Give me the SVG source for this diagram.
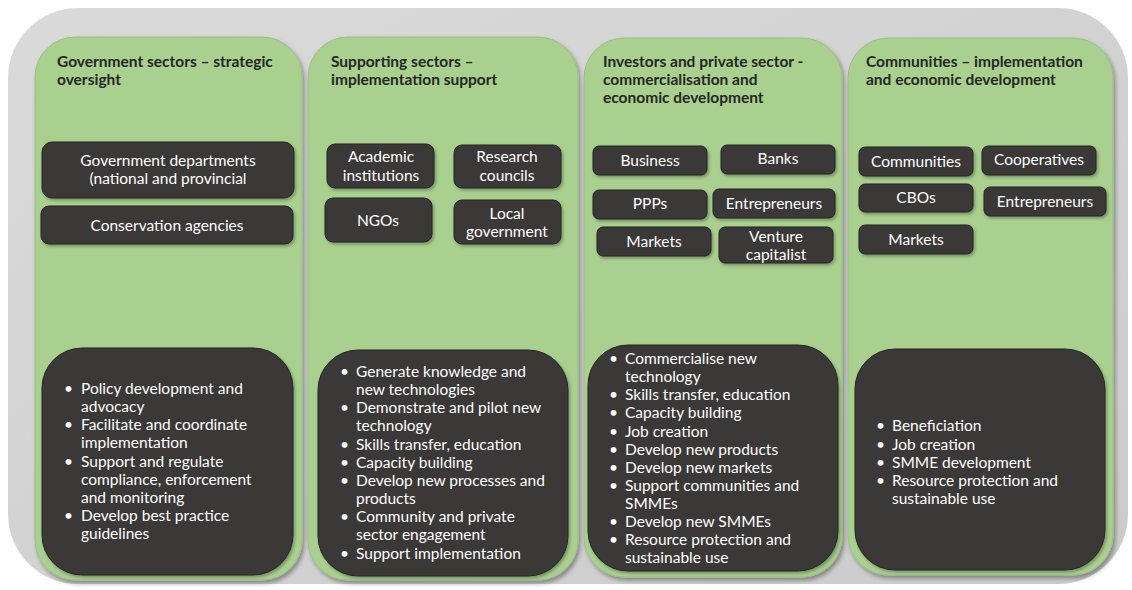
<svg xmlns="http://www.w3.org/2000/svg" width="1132" height="590" viewBox="0 0 1132 590">
  <defs>
    <linearGradient id="bgGrad" x1="0" y1="0" x2="1" y2="1">
      <stop offset="0" stop-color="#dadada"/>
      <stop offset="1" stop-color="#cbcbcb"/>
    </linearGradient>
    <filter id="shadow" x="-10%" y="-10%" width="125%" height="125%">
      <feDropShadow dx="2" dy="3" stdDeviation="2" flood-color="#000" flood-opacity="0.35"/>
    </filter>
    <filter id="shadowSoft" x="-10%" y="-10%" width="125%" height="125%">
      <feDropShadow dx="1.5" dy="2" stdDeviation="1.5" flood-color="#000" flood-opacity="0.3"/>
    </filter>
  </defs>
  <style>
    .col { fill: #a9d08e; stroke: #9cbf84; stroke-width: 1; }
    .box { fill: #3a3838; stroke: #262626; stroke-width: 1; }
    .head { font-family: "Lato", "Open Sans", sans-serif; font-weight: bold; font-size: 15.5px; fill: #262626; }
    .lbl { font-family: "Lato", "Open Sans", sans-serif; font-size: 15.5px; fill: #ffffff; text-anchor: middle; }
    .li { font-family: "Lato", "Open Sans", sans-serif; font-size: 15.5px; fill: #ffffff; }
  </style>

  <!-- background panel -->
  <rect x="8" y="8" width="1120" height="576" rx="70" ry="70" fill="url(#bgGrad)"/>

  <!-- Column 1: government -->
  <g id="col-government">
    <rect class="col" x="35" y="37" width="267" height="543" rx="40" filter="url(#shadow)"/>
    <text class="head" x="57" y="67">Government sectors – strategic</text>
    <text class="head" x="57" y="85">oversight</text>
  </g>
  <g id="gov-departments">
    <rect class="box" x="42" y="142" width="252" height="56" rx="10" filter="url(#shadowSoft)"/>
    <text class="lbl" x="168" y="166">Government departments</text>
    <text class="lbl" x="168" y="184">(national and provincial</text>
  </g>
  <g id="conservation-agencies">
    <rect class="box" x="41" y="206" width="252" height="38" rx="8" filter="url(#shadowSoft)"/>
    <text class="lbl" x="167" y="231">Conservation agencies</text>
  </g>
  <g id="gov-roles">
    <rect class="box" x="42" y="348" width="251" height="227" rx="40" filter="url(#shadowSoft)"/>
    <g class="li">
      <text x="64" y="394">•</text><text x="81" y="394">Policy development and</text>
      <text x="81" y="412">advocacy</text>
      <text x="64" y="430">•</text><text x="81" y="430">Facilitate and coordinate</text>
      <text x="81" y="448">implementation</text>
      <text x="64" y="467">•</text><text x="81" y="467">Support and regulate</text>
      <text x="81" y="485">compliance, enforcement</text>
      <text x="81" y="503">and monitoring</text>
      <text x="64" y="521">•</text><text x="81" y="521">Develop best practice</text>
      <text x="81" y="539">guidelines</text>
    </g>
  </g>

  <!-- Column 2: supporting sectors -->
  <g id="col-supporting">
    <rect class="col" x="308" y="37" width="270" height="543" rx="40" filter="url(#shadow)"/>
    <text class="head" x="331" y="67">Supporting sectors –</text>
    <text class="head" x="331" y="85">implementation support</text>
  </g>
  <g id="academic-institutions">
    <rect class="box" x="327" y="144" width="107" height="44" rx="8" filter="url(#shadowSoft)"/>
    <text class="lbl" x="381" y="162">Academic</text>
    <text class="lbl" x="381" y="181">institutions</text>
  </g>
  <g id="research-councils">
    <rect class="box" x="454" y="145" width="107" height="43" rx="8" filter="url(#shadowSoft)"/>
    <text class="lbl" x="507" y="162">Research</text>
    <text class="lbl" x="507" y="181">councils</text>
  </g>
  <g id="ngos">
    <rect class="box" x="325" y="198" width="107" height="44" rx="8" filter="url(#shadowSoft)"/>
    <text class="lbl" x="378" y="226">NGOs</text>
  </g>
  <g id="local-government">
    <rect class="box" x="454" y="200" width="107" height="44" rx="8" filter="url(#shadowSoft)"/>
    <text class="lbl" x="507" y="219">Local</text>
    <text class="lbl" x="507" y="237">government</text>
  </g>
  <g id="supporting-roles">
    <rect class="box" x="318" y="350" width="250" height="226" rx="40" filter="url(#shadowSoft)"/>
    <g class="li">
      <text x="340" y="377">•</text><text x="356" y="377">Generate knowledge and</text>
      <text x="356" y="395">new technologies</text>
      <text x="340" y="413">•</text><text x="356" y="413">Demonstrate and pilot new</text>
      <text x="356" y="431">technology</text>
      <text x="340" y="450">•</text><text x="356" y="450">Skills transfer, education</text>
      <text x="340" y="468">•</text><text x="356" y="468">Capacity building</text>
      <text x="340" y="486">•</text><text x="356" y="486">Develop new processes and</text>
      <text x="356" y="504">products</text>
      <text x="340" y="522">•</text><text x="356" y="522">Community and private</text>
      <text x="356" y="540">sector engagement</text>
      <text x="340" y="559">•</text><text x="356" y="559">Support implementation</text>
    </g>
  </g>

  <!-- Column 3: investors and private sector -->
  <g id="col-investors">
    <rect class="col" x="584" y="38" width="258" height="539" rx="40" filter="url(#shadow)"/>
    <text class="head" x="603" y="67">Investors and private sector  -</text>
    <text class="head" x="603" y="85">commercialisation and</text>
    <text class="head" x="603" y="103">economic development</text>
  </g>
  <g id="business">
    <rect class="box" x="593" y="146" width="114" height="29" rx="6" filter="url(#shadowSoft)"/>
    <text class="lbl" x="650" y="166">Business</text>
  </g>
  <g id="banks">
    <rect class="box" x="721" y="145" width="114" height="29" rx="6" filter="url(#shadowSoft)"/>
    <text class="lbl" x="778" y="164">Banks</text>
  </g>
  <g id="ppps">
    <rect class="box" x="593" y="190" width="114" height="29" rx="6" filter="url(#shadowSoft)"/>
    <text class="lbl" x="650" y="209">PPPs</text>
  </g>
  <g id="entrepreneurs-investors">
    <rect class="box" x="713" y="189" width="122" height="29" rx="6" filter="url(#shadowSoft)"/>
    <text class="lbl" x="774" y="209">Entrepreneurs</text>
  </g>
  <g id="markets-investors">
    <rect class="box" x="597" y="227" width="114" height="29" rx="6" filter="url(#shadowSoft)"/>
    <text class="lbl" x="654" y="247">Markets</text>
  </g>
  <g id="venture-capitalist">
    <rect class="box" x="719" y="227" width="114" height="36" rx="6" filter="url(#shadowSoft)"/>
    <text class="lbl" x="776" y="242">Venture</text>
    <text class="lbl" x="776" y="260">capitalist</text>
  </g>
  <g id="investor-roles">
    <rect class="box" x="588" y="345" width="250" height="226" rx="40" filter="url(#shadowSoft)"/>
    <g class="li">
      <text x="609" y="364">•</text><text x="625" y="364">Commercialise new</text>
      <text x="625" y="382">technology</text>
      <text x="609" y="400">•</text><text x="625" y="400">Skills transfer, education</text>
      <text x="609" y="418">•</text><text x="625" y="418">Capacity building</text>
      <text x="609" y="437">•</text><text x="625" y="437">Job creation</text>
      <text x="609" y="455">•</text><text x="625" y="455">Develop new products</text>
      <text x="609" y="473">•</text><text x="625" y="473">Develop new markets</text>
      <text x="609" y="491">•</text><text x="625" y="491">Support communities and</text>
      <text x="625" y="509">SMMEs</text>
      <text x="609" y="527">•</text><text x="625" y="527">Develop new SMMEs</text>
      <text x="609" y="545">•</text><text x="625" y="545">Resource protection and</text>
      <text x="625" y="563">sustainable use</text>
    </g>
  </g>

  <!-- Column 4: communities -->
  <g id="col-communities">
    <rect class="col" x="848" y="38" width="265" height="537" rx="40" filter="url(#shadow)"/>
    <text class="head" x="866" y="67">Communities – implementation</text>
    <text class="head" x="866" y="85">and economic development</text>
  </g>
  <g id="communities">
    <rect class="box" x="859" y="147" width="114" height="29" rx="6" filter="url(#shadowSoft)"/>
    <text class="lbl" x="916" y="167">Communities</text>
  </g>
  <g id="cooperatives">
    <rect class="box" x="982" y="146" width="114" height="29" rx="6" filter="url(#shadowSoft)"/>
    <text class="lbl" x="1039" y="165">Cooperatives</text>
  </g>
  <g id="cbos">
    <rect class="box" x="859" y="184" width="114" height="28" rx="6" filter="url(#shadowSoft)"/>
    <text class="lbl" x="916" y="203">CBOs</text>
  </g>
  <g id="entrepreneurs-communities">
    <rect class="box" x="984" y="187" width="122" height="29" rx="6" filter="url(#shadowSoft)"/>
    <text class="lbl" x="1045" y="207">Entrepreneurs</text>
  </g>
  <g id="markets-communities">
    <rect class="box" x="859" y="225" width="114" height="29" rx="6" filter="url(#shadowSoft)"/>
    <text class="lbl" x="916" y="245">Markets</text>
  </g>
  <g id="community-roles">
    <rect class="box" x="855" y="349" width="250" height="221" rx="40" filter="url(#shadowSoft)"/>
    <g class="li">
      <text x="876" y="431">•</text><text x="892" y="431">Beneficiation</text>
      <text x="876" y="450">•</text><text x="892" y="450">Job creation</text>
      <text x="876" y="468">•</text><text x="892" y="468">SMME development</text>
      <text x="876" y="486">•</text><text x="892" y="486">Resource protection and</text>
      <text x="892" y="504">sustainable use</text>
    </g>
  </g>

  <!-- no connectors in this layout -->
  <g id="connectors"/>
</svg>
